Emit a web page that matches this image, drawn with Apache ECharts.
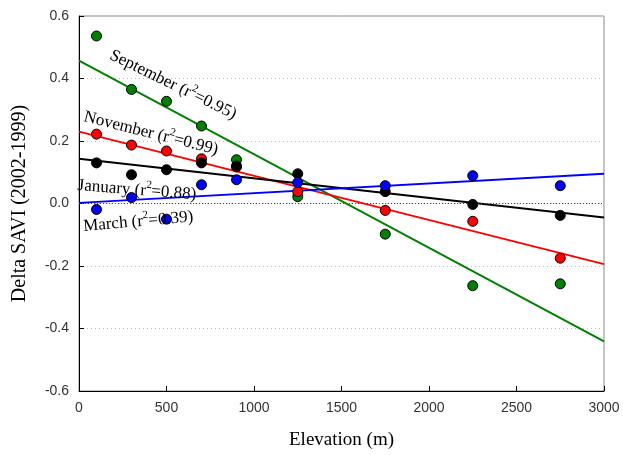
<!DOCTYPE html>
<html><head><meta charset="utf-8">
<script src="https://cdn.jsdelivr.net/npm/echarts@6/dist/echarts.min.js"></script>
<style>html,body{margin:0;padding:0;background:#fff}#c{width:623px;height:455px}</style>
</head><body><div id="c"></div>
<script>
const elevations = [100, 300, 500, 700, 900, 1250, 1750, 2250, 2750];
const september = [0.536, 0.365, 0.327, 0.248, 0.14, 0.022, -0.098, -0.263, -0.257];
const november  = [0.222, 0.187, 0.168, 0.143, 0.117, 0.038, -0.022, -0.057, -0.175];
const january   = [0.13, 0.092, 0.108, 0.13, 0.12, 0.095, 0.038, -0.003, -0.038];
const march     = [-0.019, 0.019, -0.05, 0.06, 0.076, 0.067, 0.057, 0.089, 0.057];
const fitX = [0, 3000];
const septemberFit = [0.457, -0.441];
const novemberFit  = [0.23, -0.194];
const januaryFit   = [0.143, -0.045];
const marchFit     = [0.002, 0.095];
const monthNames = ['September', 'November', 'January', 'March'];
const r2Values = ['0.95', '0.99', '0.88', '0.39'];

const pair = (xs, ys) => xs.map((x, i) => [x, ys[i]]);
const serif = '"Liberation Serif","Times New Roman",serif';
const tickFont = '"Liberation Sans Narrow","Liberation Sans",Arial,sans-serif';

function scatter(name, vals, color) {
  return { name, type: 'scatter', data: pair(elevations, vals), symbolSize: 10, z: 5,
    itemStyle: { color, borderColor: '#000', borderWidth: 1, opacity: 1 } };
}
function fit(name, vals, color) {
  return { name: name + ' fit', type: 'line', data: pair(fitX, vals), symbol: 'none', z: 3,
    lineStyle: { color, width: 2 } };
}
function note(i, x, y, deg) {
  return { type: 'text', x, y, rotation: -deg * Math.PI / 180, z: 10,
    style: {
      text: '{n|' + monthNames[i] + ' (r}{s|2}{n|=' + r2Values[i] + ')}',
      fill: '#000', textVerticalAlign: 'bottom',
      rich: {
        n: { fontFamily: serif, fontSize: 17, lineHeight: 20, verticalAlign: 'bottom' },
        s: { fontFamily: serif, fontSize: 11, lineHeight: 20, verticalAlign: 'top' }
      }
    } };
}

const chart = echarts.init(document.getElementById('c'));
chart.setOption({
  animation: false,
  grid: { left: 79, right: 19, top: 16, bottom: 61, show: true, borderColor: '#888', borderWidth: 1 },
  xAxis: {
    type: 'value', min: 0, max: 3000, interval: 500,
    name: 'Elevation (m)', nameLocation: 'middle', nameGap: 40,
    nameTextStyle: { fontFamily: serif, fontSize: 19, color: '#000' },
    axisLine: { onZero: false, lineStyle: { color: '#000', width: 1 } },
    axisTick: { inside: true, length: 5, lineStyle: { color: '#000' } },
    axisLabel: { fontFamily: tickFont, fontSize: 14, color: '#333', margin: 10,
      formatter: v => String(v) },
    splitLine: { show: false }
  },
  yAxis: {
    type: 'value', min: -0.6, max: 0.6, interval: 0.2,
    name: 'Delta SAVI (2002-1999)', nameLocation: 'middle', nameGap: 49,
    nameTextStyle: { fontFamily: serif, fontSize: 20, color: '#000' },
    axisLine: { onZero: false, lineStyle: { color: '#000', width: 1 } },
    axisTick: { inside: true, length: 5, lineStyle: { color: '#000' } },
    axisLabel: { fontFamily: tickFont, fontSize: 14, color: '#333', margin: 10,
      formatter: v => v.toFixed(1) },
    splitLine: { show: true, lineStyle: { color: '#bbb', type: [1, 3], width: 1 } }
  },
  series: [
    fit('September', septemberFit, '#008000'),
    fit('November', novemberFit, '#ff0000'),
    fit('January', januaryFit, '#000000'),
    fit('March', marchFit, '#0000ff'),
    scatter('September', september, '#008000'),
    scatter('November', november, '#ff0000'),
    scatter('January', january, '#000000'),
    scatter('March', march, '#0000ff'),
    { type: 'line', data: [], markLine: { silent: true, symbol: 'none', label: { show: false },
      lineStyle: { color: '#444', type: [1, 2], width: 1 }, data: [{ yAxis: 0 }] } }
  ],
  graphic: [
    note(0, 107, 62, 26),
    note(1, 82, 125, 14),
    note(2, 77, 194, 4.5),
    note(3, 84, 235, -5)
  ]
});
</script></body></html>
